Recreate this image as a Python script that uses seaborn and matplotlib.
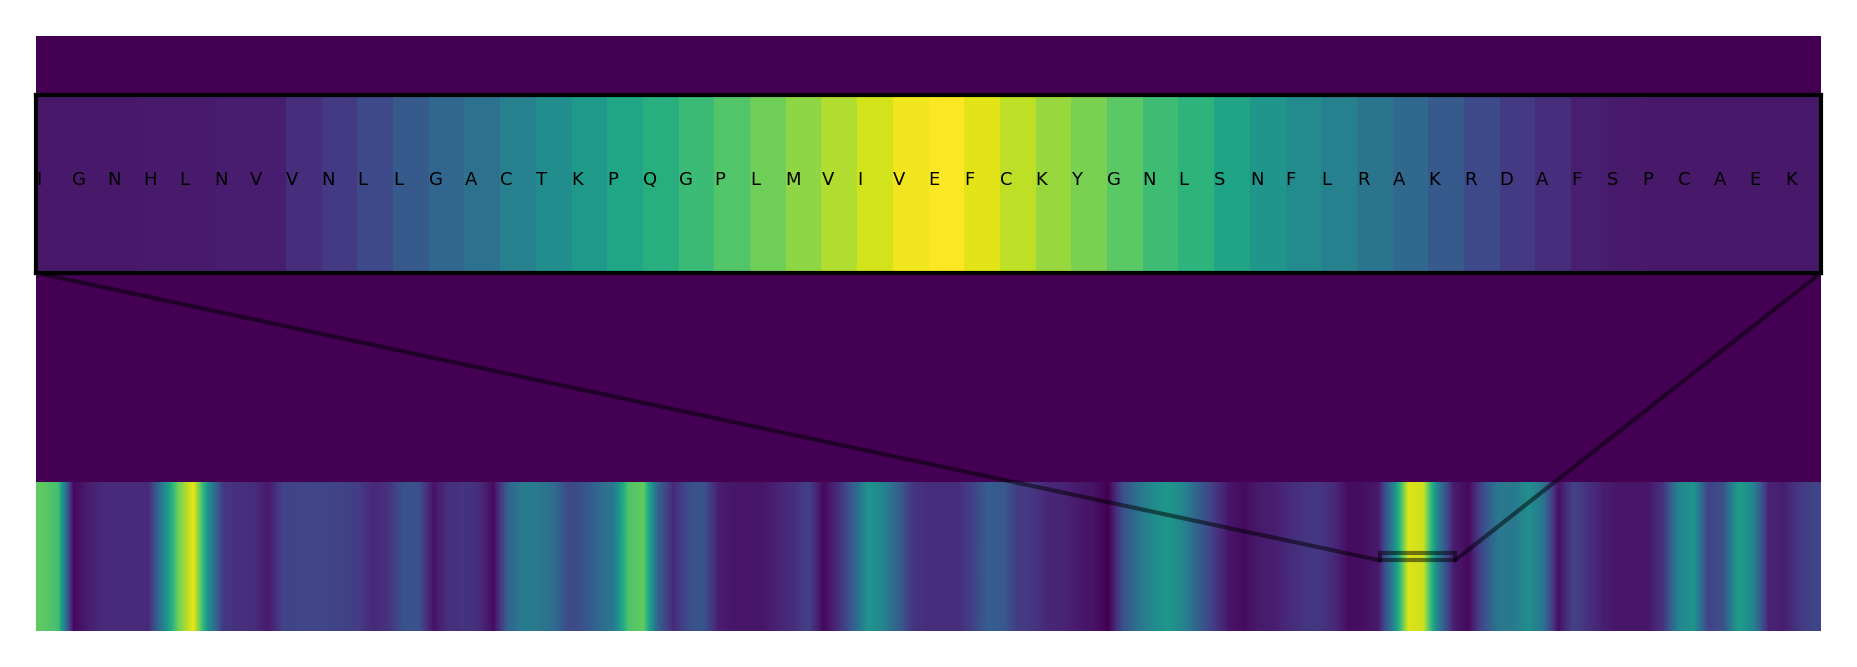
import numpy as np
import pandas as pd
import matplotlib
matplotlib.use("Agg")
import matplotlib.pyplot as plt
from matplotlib.patches import Rectangle, ConnectionPatch
import seaborn as sns

# full sequence profile, one value per 10-residue bin (1190 residues)
seq_len = 1190
bin_values = [
    0.75, 0.70, 0.02, 0.08, 0.12, 0.12, 0.12, 0.12, 0.44, 0.78,
    0.97, 0.50, 0.16, 0.14, 0.13, 0.07, 0.20, 0.21, 0.21, 0.21,
    0.20, 0.18, 0.11, 0.15, 0.25, 0.25, 0.05, 0.14, 0.15, 0.13,
    0.03, 0.32, 0.42, 0.40, 0.36, 0.22, 0.25, 0.34, 0.40, 0.72,
    0.76, 0.30, 0.12, 0.24, 0.26, 0.08, 0.06, 0.06, 0.06, 0.10,
    0.13, 0.20, 0.02, 0.13, 0.30, 0.52, 0.45, 0.30, 0.15, 0.13,
    0.13, 0.13, 0.20, 0.30, 0.28, 0.17, 0.16, 0.11, 0.10, 0.07,
    0.05, 0.00, 0.25, 0.38, 0.48, 0.53, 0.45, 0.30, 0.18, 0.06,
    0.03, 0.07, 0.08, 0.12, 0.15, 0.16, 0.12, 0.03, 0.04, 0.07,
    0.45, 0.95, 0.92, 0.42, 0.08, 0.02, 0.24, 0.40, 0.40, 0.50,
    0.38, 0.04, 0.20, 0.14, 0.08, 0.06, 0.06, 0.06, 0.15, 0.45,
    0.52, 0.20, 0.25, 0.56, 0.45, 0.10, 0.08, 0.16, 0.20,
]

# zoomed window: 50 residues starting at 896
window_start = 896
window_letters = list("IGNHLNVVNLLGACTKPQGPLMVIVEFCKYGNLSNFLRAKRDAFSPCAEK")
window_values = [
    0.065, 0.065, 0.065, 0.07, 0.07, 0.075, 0.08, 0.13, 0.17, 0.22,
    0.28, 0.33, 0.37, 0.43, 0.49, 0.54, 0.59, 0.63, 0.68, 0.73,
    0.78, 0.83, 0.88, 0.93, 0.98, 1.00, 0.955, 0.90, 0.845, 0.80,
    0.745, 0.69, 0.645, 0.585, 0.52, 0.475, 0.43, 0.385, 0.335, 0.28,
    0.22, 0.17, 0.13, 0.085, 0.07, 0.065, 0.065, 0.065, 0.065, 0.065,
]

cmap = plt.get_cmap("viridis")

fig = plt.figure(figsize=(18.57, 6.67), dpi=100)
ax = fig.add_axes([36 / 1857, 36 / 667, 1785 / 1857, 595 / 667])
ax.set_facecolor(cmap(0.0))
ax.imshow(np.array(bin_values)[None, :], cmap="viridis", vmin=0, vmax=1,
          aspect="auto", extent=(0, seq_len, 0, 1),
          interpolation="bilinear", interpolation_stage="data")
ax.set_xlim(0, seq_len)
ax.set_ylim(0, 4)
ax.set_xticks([])
ax.set_yticks([])
for sp in ax.spines.values():
    sp.set_visible(False)

# inset with one cell per residue
axins = ax.inset_axes([0, 0.602, 1, 0.299])
window_df = pd.DataFrame([window_values], columns=window_letters)
sns.heatmap(window_df, ax=axins, cmap="viridis", vmin=0, vmax=1, cbar=False,
            xticklabels=False, yticklabels=False, linewidths=0)
axins.set_xlim(0, len(window_values))
axins.set_xlabel("")
axins.set_ylabel("")
for sp in axins.spines.values():
    sp.set_visible(True)
    sp.set_color("black")
    sp.set_linewidth(3.0)

for i, letter in enumerate(window_letters):
    axins.text(i, 0.523, letter, ha="left", va="center", fontsize=13,
               color="black", transform=axins.get_xaxis_transform())

# zoom indicator and connectors
rect_y, rect_h = 0.475, 0.05
ax.add_patch(Rectangle((window_start, rect_y), len(window_values), rect_h,
                       fill=False, edgecolor="black", alpha=0.5, linewidth=3.0))
for corner, xb in [((0, 0), window_start),
                   ((1, 0), window_start + len(window_values))]:
    con = ConnectionPatch(xyA=corner, coordsA=axins.transAxes,
                          xyB=(xb, rect_y), coordsB=ax.transData,
                          color="black", alpha=0.5, linewidth=3.0)
    fig.add_artist(con)

fig.savefig("out.png", dpi=100)
